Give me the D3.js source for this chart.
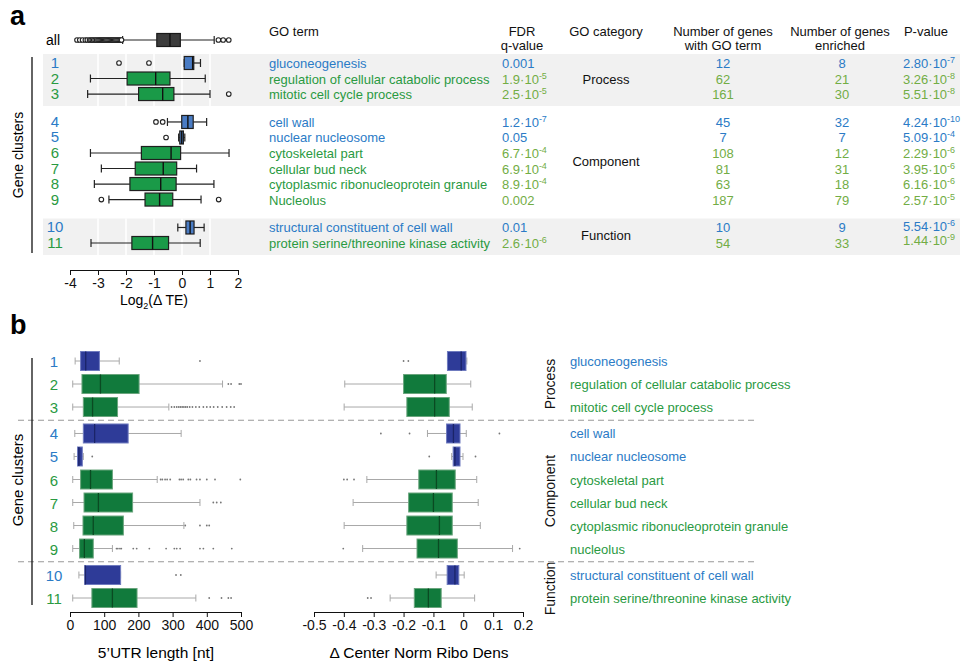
<!DOCTYPE html>
<html>
<head>
<meta charset="utf-8">
<script src="https://cdn.jsdelivr.net/npm/d3@7"></script>
<style>
  body { margin: 0; background: #fff; }
  svg text { font-family: "Liberation Sans", Arial, sans-serif; }
</style>
</head>
<body>
<div id="chart"></div>
<script>
////////////////////////////////////////////////////////////////////////
// Data

let clusters = ["1", "2", "3", "4", "5", "6", "7", "8", "9", "10", "11"];
let clusterGroup = [0, 0, 0, 1, 1, 1, 1, 1, 1, 2, 2];
let clusterBlue = [true, false, false, true, true, false, false, false, false, true, false];
let categories = ["Process", "Component", "Function"];

let goTerms = ["gluconeogenesis", "regulation of cellular catabolic process",
  "mitotic cell cycle process", "cell wall", "nuclear nucleosome",
  "cytoskeletal part", "cellular bud neck", "cytoplasmic ribonucleoprotein granule",
  "Nucleolus", "structural constituent of cell wall",
  "protein serine/threonine kinase activity"];
let goTermsB = goTerms.map((t, i) => i == 8 ? "nucleolus" : t);

let fdrText = ["0.001", "1.9·10^-5", "2.5·10^-5", "1.2·10^-7", "0.05", "6.7·10^-4",
  "6.9·10^-4", "8.9·10^-4", "0.002", "0.01", "2.6·10^-6"];
let nGenesGO = [12, 62, 161, 45, 7, 108, 81, 63, 187, 10, 54];
let nGenesEnriched = [8, 21, 30, 32, 7, 12, 31, 18, 79, 9, 33];
let pText = ["2.80·10^-7", "3.26·10^-8", "5.51·10^-8", "4.24·10^-10", "5.09·10^-4",
  "2.29·10^-6", "3.95·10^-6", "6.16·10^-6", "2.57·10^-5", "5.54·10^-6", "1.44·10^-9"];

// Log2(delta TE) boxplots: [low whisker, q1, median, q3, high whisker]
let teAll = [-2.12, -0.90, -0.43, -0.06, 1.15];
let teAllOut = [-3.75, -3.65, -3.55, -3.45, -3.38, -3.3, -3.25, -3.2, -3.15, -3.1,
  -3.05, -3.0, -2.96, -2.92, -2.88, -2.84, -2.8, -2.76, -2.72, -2.68, -2.64, -2.6,
  -2.56, -2.52, -2.48, -2.44, -2.4, -2.36, -2.32, -2.28, -2.24, -2.2, -2.16,
  1.3, 1.47, 1.67];
let teStats = [
  [0.08, 0.08, 0.38, 0.42, 0.66],
  [-3.27, -1.96, -0.94, -0.43, 0.83],
  [-3.37, -1.55, -0.69, -0.29, 1.0],
  [-0.52, -0.01, 0.21, 0.40, 0.88],
  [-0.12, -0.08, -0.01, 0.05, 0.1],
  [-3.27, -1.45, -0.39, -0.05, 1.68],
  [-2.88, -1.67, -0.67, -0.19, 0.52],
  [-3.13, -1.86, -0.76, -0.21, 1.14],
  [-2.61, -1.32, -0.80, -0.33, 0.68],
  [-0.15, 0.14, 0.29, 0.43, 0.79],
  [-3.25, -1.79, -1.05, -0.48, 0.65]
];
let teOut = [[-2.25, -1.18], [], [1.67], [-0.93, -0.69], [-0.57], [], [], [],
  [-2.88, 1.31], [], []];

// 5'UTR length boxplots
let utrStats = [
  [15, 31, 46, 86, 144],
  [8, 35, 89, 202, 446],
  [8, 39, 66, 139, 289],
  [14, 39, 72, 170, 325],
  [12, 22, 26, 36, 39],
  [8, 31, 60, 124, 255],
  [8, 41, 83, 183, 380],
  [11, 38, 68, 156, 333],
  [8, 28, 42, 68, 124],
  [26, 43, 45, 148, 148],
  [8, 64, 124, 196, 368]
];
let utrOut = [
  [380],
  [463, 471, 495, 500],
  [297, 305, 312, 318, 323, 328, 333, 338, 343, 350, 358, 368, 378, 390, 400, 410, 420, 432, 445, 458, 470, 480],
  [],
  [65],
  [265, 270, 278, 284, 293, 320, 325, 331, 346, 352, 370, 380, 400, 424, 498],
  [419, 429, 441],
  [337, 380, 400, 407],
  [136, 140, 146, 150, 185, 195, 232, 281, 305, 312, 322, 380, 390, 419, 473],
  [310, 324],
  [407, 443, 463, 471]
];

// delta center normalized ribosome density boxplots
let riboStats = [
  [-0.053, -0.053, -0.007, 0.009, 0.012],
  [-0.397, -0.2, -0.096, -0.057, 0.025],
  [-0.399, -0.189, -0.096, -0.047, 0.030],
  [-0.12, -0.056, -0.033, -0.011, 0.010],
  [-0.039, -0.034, -0.028, -0.011, -0.001],
  [-0.323, -0.149, -0.090, -0.027, 0.045],
  [-0.369, -0.183, -0.100, -0.037, 0.050],
  [-0.399, -0.189, -0.080, -0.037, 0.057],
  [-0.337, -0.155, -0.083, -0.020, 0.165],
  [-0.091, -0.054, -0.028, -0.015, 0.003],
  [-0.245, -0.164, -0.117, -0.074, 0.038]
];
let riboOut = [[-0.2, -0.184], [], [], [-0.276, -0.18, 0.121], [-0.114, 0.041],
  [-0.40, -0.389, -0.366], [], [], [-0.402, 0.189], [], [-0.320, -0.309]];

let teTicks = [-4, -3, -2, -1, 0, 1, 2];
let utrTicks = [0, 100, 200, 300, 400, 500];
let riboTicks = [-0.5, -0.4, -0.3, -0.2, -0.1, 0, 0.1, 0.2];

////////////////////////////////////////////////////////////////////////
// Colours

let blueText = "#2b7bc6";
let greenText = "#2a9a42";
let limeText = "#72ad45";

let width = 969;
let height = 662;

let svg = d3.select("#chart").append("svg")
  .attr("width", width).attr("height", height);

// plain hyphen for negative tick labels, like the original
function hyphen(f) {
  return d => f(d).replace("−", "-");
}

// write "1.9·10^-5" as text with superscript exponent
function richText(sel, str) {
  let parts = str.split("^");
  sel.text(null);
  sel.append("tspan").text(parts[0]);
  if (parts.length > 1) {
    sel.append("tspan").attr("dy", -5).attr("font-size", "9px").text(parts[1]);
  }
}

// generic horizontal boxplot
function drawBoxes(g, xScale, stats, outs, yOf, o) {
  stats.forEach(function (s, i) {
    let y = yOf(i);
    let col = o.fill(i);
    // whiskers
    g.append("line")
      .attr("x1", xScale(s[0])).attr("x2", xScale(s[1]))
      .attr("y1", y).attr("y2", y)
      .attr("stroke", o.whisker).attr("stroke-width", o.ww);
    g.append("line")
      .attr("x1", xScale(s[3])).attr("x2", xScale(s[4]))
      .attr("y1", y).attr("y2", y)
      .attr("stroke", o.whisker).attr("stroke-width", o.ww);
    [s[0], s[4]].forEach(function (v) {
      g.append("line")
        .attr("x1", xScale(v)).attr("x2", xScale(v))
        .attr("y1", y - o.cap / 2).attr("y2", y + o.cap / 2)
        .attr("stroke", o.whisker).attr("stroke-width", o.ww);
    });
    g.append("rect")
      .attr("x", xScale(s[1])).attr("y", y - o.h / 2)
      .attr("width", Math.max(1, xScale(s[3]) - xScale(s[1])))
      .attr("height", o.h)
      .attr("fill", col)
      .attr("stroke", o.stroke(i)).attr("stroke-width", o.sw);
    g.append("line")
      .attr("x1", xScale(s[2])).attr("x2", xScale(s[2]))
      .attr("y1", y - o.h / 2).attr("y2", y + o.h / 2)
      .attr("stroke", o.median(i)).attr("stroke-width", o.mw);
    g.selectAll(null).data(outs[i]).enter()
      .append("circle")
      .attr("cx", d => xScale(d)).attr("cy", y)
      .attr("r", o.r)
      .attr("fill", o.outFill)
      .attr("stroke", o.outStroke)
      .attr("stroke-width", o.outSw);
  });
}

////////////////////////////////////////////////////////////////////////
// Panel a

let a = svg.append("g");

a.append("text").attr("x", 10).attr("y", 25)
  .attr("font-size", "27px").attr("font-weight", "bold").text("a");

let teX = d3.scaleLinear().domain([-4, 2]).range([70, 238]);
// rows: slot index with a gap between GO categories
let aY = d3.scaleLinear().domain([0, 11.6]).range([63, 243]);
function aRowY(i) { return aY(i + 0.8 * clusterGroup[i]); }

// gray bands for Process and Function groups
[[0, 2], [9, 10]].forEach(function (r) {
  let y0 = aRowY(r[0]) - 9;
  let y1 = aRowY(r[1]) + 12;
  a.append("rect").attr("x", 43).attr("y", y0)
    .attr("width", 917).attr("height", y1 - y0)
    .attr("fill", "#f1f1f1");
  a.selectAll(null).data(teTicks.slice(1, -1)).enter()
    .append("line")
    .attr("x1", d => teX(d)).attr("x2", d => teX(d))
    .attr("y1", y0).attr("y2", y1)
    .attr("stroke", "#fff").attr("stroke-width", 1.5);
});

// all genes
a.append("text").attr("x", 46).attr("y", 45).attr("font-size", "14px").text("all");
drawBoxes(a, teX, [teAll], [teAllOut], () => 40, {
  h: 13, cap: 8, ww: 1.2, sw: 1.2, mw: 1.4, r: 2.3,
  fill: () => "#3c3c3c", stroke: () => "#1a1a1a", median: () => "#111",
  whisker: "#222", outFill: "#fff", outStroke: "#222", outSw: 1.1
});

drawBoxes(a, teX, teStats, teOut, aRowY, {
  h: 13, cap: 8, ww: 1.2, sw: 1.2, mw: 1.4, r: 2.3,
  fill: i => clusterBlue[i] ? "#4a7cc4" : "#1a9a48",
  stroke: () => "#1f1f1f", median: () => "#111",
  whisker: "#222", outFill: "#fff", outStroke: "#222", outSw: 1.1
});

// cluster numbers
a.selectAll(null).data(clusters).enter()
  .append("text")
  .attr("x", 55).attr("y", (d, i) => aRowY(i) + 5)
  .attr("text-anchor", "middle").attr("font-size", "15px")
  .attr("fill", (d, i) => clusterBlue[i] ? blueText : greenText)
  .text(d => d);

a.append("line").attr("x1", 32).attr("x2", 32)
  .attr("y1", 57).attr("y2", 253)
  .attr("stroke", "#111").attr("stroke-width", 1.3);
a.append("text")
  .attr("transform", "translate(23,155) rotate(-90)")
  .attr("text-anchor", "middle").attr("font-size", "14px")
  .text("Gene clusters");

a.append("g").attr("transform", "translate(0,270)")
  .call(d3.axisBottom(teX).tickValues(teTicks).tickSize(5).tickSizeOuter(0)
    .tickFormat(hyphen(d3.format("d"))))
  .call(g => g.selectAll("text").attr("font-size", "14px").attr("fill", "#111"))
  .call(g => g.selectAll("line,path").attr("stroke", "#111"));

let teLabel = a.append("text").attr("x", 154).attr("y", 305)
  .attr("text-anchor", "middle").attr("font-size", "14px");
teLabel.append("tspan").text("Log");
teLabel.append("tspan").attr("dy", 4).attr("font-size", "9px").text("2");
teLabel.append("tspan").attr("dy", -4).text("(Δ TE)");

// table header
let hdr = a.append("g").attr("font-size", "13px").attr("fill", "#111");
hdr.append("text").attr("x", 269).attr("y", 36).text("GO term");
hdr.append("text").attr("x", 522).attr("y", 36).attr("text-anchor", "middle").text("FDR");
hdr.append("text").attr("x", 522).attr("y", 50).attr("text-anchor", "middle").text("q-value");
hdr.append("text").attr("x", 606).attr("y", 36).attr("text-anchor", "middle").text("GO category");
hdr.append("text").attr("x", 723).attr("y", 36).attr("text-anchor", "middle").text("Number of genes");
hdr.append("text").attr("x", 723).attr("y", 50).attr("text-anchor", "middle").text("with GO term");
hdr.append("text").attr("x", 840).attr("y", 36).attr("text-anchor", "middle").text("Number of genes");
hdr.append("text").attr("x", 840).attr("y", 50).attr("text-anchor", "middle").text("enriched");
hdr.append("text").attr("x", 926).attr("y", 36).attr("text-anchor", "middle").text("P-value");

// table rows
let rows = a.append("g").attr("font-size", "13px");
goTerms.forEach(function (t, i) {
  let y = aRowY(i) + 5;
  let c1 = clusterBlue[i] ? blueText : greenText;
  let c2 = clusterBlue[i] ? blueText : limeText;
  rows.append("text").attr("x", 269).attr("y", y).attr("fill", c1).text(t);
  rows.append("text").attr("x", 502).attr("y", y).attr("fill", c2)
    .call(richText, fdrText[i]);
  rows.append("text").attr("x", 723).attr("y", y).attr("text-anchor", "middle")
    .attr("fill", c2).text(nGenesGO[i]);
  rows.append("text").attr("x", 842).attr("y", y).attr("text-anchor", "middle")
    .attr("fill", c2).text(nGenesEnriched[i]);
  let py = y + (i == 9 ? -1.5 : i == 10 ? -3 : 0);
  rows.append("text").attr("x", 903).attr("y", py).attr("fill", c2)
    .call(richText, pText[i]);
});

// GO category labels in the table
categories.forEach(function (c, k) {
  let idx = d3.range(11).filter(i => clusterGroup[i] == k);
  let yc = (aRowY(idx[0]) + aRowY(idx[idx.length - 1])) / 2;
  a.append("text").attr("x", 606).attr("y", yc + 5)
    .attr("text-anchor", "middle").attr("font-size", "13px").attr("fill", "#111")
    .text(c);
});

////////////////////////////////////////////////////////////////////////
// Panel b

let b = svg.append("g");
b.append("text").attr("x", 10).attr("y", 334)
  .attr("font-size", "27px").attr("font-weight", "bold").text("b");

let bY = d3.scaleLinear().domain([0, 10.3]).range([361, 598]);
function bRowY(i) { return bY(i + 0.15 * clusterGroup[i]); }

let utrX = d3.scaleLinear().domain([0, 500]).range([70, 241]);
let riboX = d3.scaleLinear().domain([-0.5, 0.2]).range([314, 523]);

// dashed separators between GO categories
[2, 8].forEach(function (i) {
  let y = (bRowY(i) + bRowY(i + 1)) / 2;
  b.append("line").attr("x1", 18).attr("x2", 757)
    .attr("y1", y).attr("y2", y)
    .attr("stroke", "#999").attr("stroke-width", 1.2)
    .attr("stroke-dasharray", "6,4");
});

let bOpts = {
  h: 19, cap: 7, ww: 1, sw: 1, mw: 1.3, r: 0.9,
  fill: i => clusterBlue[i] ? "#2e3b98" : "#117a3c",
  stroke: i => clusterBlue[i] ? "#6f7bbf" : "#6aa57d",
  median: i => clusterBlue[i] ? "#1b2468" : "#0a4a22",
  whisker: "#a8a8a8", outFill: "#777", outStroke: "none", outSw: 0
};
drawBoxes(b, utrX, utrStats, utrOut, bRowY, bOpts);
drawBoxes(b, riboX, riboStats, riboOut, bRowY, bOpts);

b.selectAll(null).data(clusters).enter()
  .append("text")
  .attr("x", 54).attr("y", (d, i) => bRowY(i) + 6)
  .attr("text-anchor", "middle").attr("font-size", "15px")
  .attr("fill", (d, i) => clusterBlue[i] ? blueText : greenText)
  .text(d => d);

b.append("line").attr("x1", 32).attr("x2", 32)
  .attr("y1", 358).attr("y2", 605)
  .attr("stroke", "#111").attr("stroke-width", 1.3);
b.append("text")
  .attr("transform", "translate(23,480) rotate(-90)")
  .attr("text-anchor", "middle").attr("font-size", "15px")
  .text("Gene clusters");

b.append("g").attr("transform", "translate(0,612)")
  .call(d3.axisBottom(utrX).tickValues(utrTicks).tickSize(5).tickSizeOuter(0))
  .call(g => g.selectAll("text").attr("font-size", "14px").attr("fill", "#111"))
  .call(g => g.selectAll("line,path").attr("stroke", "#111"));
b.append("g").attr("transform", "translate(0,612)")
  .call(d3.axisBottom(riboX).tickValues(riboTicks).tickSize(5).tickSizeOuter(0)
    .tickFormat(hyphen(d => d == 0 ? "0" : d3.format(".1f")(d))))
  .call(g => g.selectAll("text").attr("font-size", "14px").attr("fill", "#111"))
  .call(g => g.selectAll("line,path").attr("stroke", "#111"));

b.append("text").attr("x", 156).attr("y", 658)
  .attr("text-anchor", "middle").attr("font-size", "15.5px").text("5’UTR length [nt]");
b.append("text").attr("x", 419).attr("y", 658)
  .attr("text-anchor", "middle").attr("font-size", "15.5px").text("Δ Center Norm Ribo Dens");

// category labels and GO terms on the right
categories.forEach(function (c, k) {
  let idx = d3.range(11).filter(i => clusterGroup[i] == k);
  let yc = (bRowY(idx[0]) + bRowY(idx[idx.length - 1])) / 2;
  if (k == 2) yc += 2;
  b.append("text")
    .attr("transform", `translate(555,${yc}) rotate(-90)`)
    .attr("text-anchor", "middle").attr("font-size", "14px").attr("fill", "#111")
    .text(c);
});

b.selectAll(null).data(goTermsB).enter()
  .append("text")
  .attr("x", 570).attr("y", (d, i) => bRowY(i) + 5)
  .attr("font-size", "13px")
  .attr("fill", (d, i) => clusterBlue[i] ? blueText : greenText)
  .text(d => d);
</script>
</body>
</html>
